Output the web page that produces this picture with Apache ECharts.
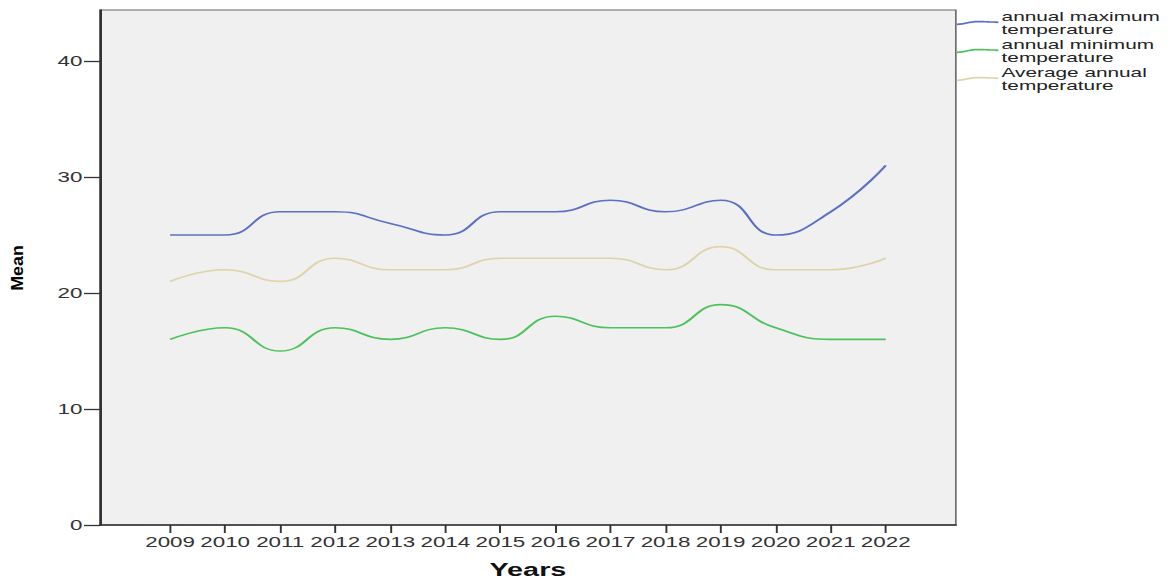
<!DOCTYPE html>
<html><head><meta charset="utf-8">
<script src="https://cdn.jsdelivr.net/npm/echarts@6/dist/echarts.min.js"></script>
<style>
html,body{margin:0;padding:0;background:#fff;overflow:hidden}
#wrap{width:1172px;height:579px;overflow:hidden}
#c{width:732.5px;height:579px;transform:scaleX(1.6);transform-origin:0 0}
</style>
</head><body><div id="wrap"><div id="c"></div></div>
<script>
const years = [2009,2010,2011,2012,2013,2014,2015,2016,2017,2018,2019,2020,2021,2022];
const maxTemp = [25,25,27,27,26,25,27,27,28,27,28,25,27,31];
const minTemp = [16,17,15,17,16,17,16,18,17,17,19,17,16,16];
const avgTemp = [21,22,21,23,22,22,23,23,23,22,24,22,22,23];
const yTicks = [0,10,20,30,40];
const seriesNames = ['annual maximum\ntemperature','annual minimum\ntemperature','Average annual\ntemperature'];
const colors = ['#5b6fc5','#4cc35a','#dbd5a8'];

const pair = arr => years.map((y,i)=>[y,arr[i]]);
const chart = echarts.init(document.getElementById('c'), null, {renderer:'svg'});
const lbl = {fontFamily:'Liberation Sans, Arial', fontSize:14, color:'#333'};
const wave = 'path://M0,6 C8,6 12,2 20,2 C28,2 32,3 40,3 L40,5.6 C32,5.6 28,4.6 20,4.6 C12,4.6 8,8.6 0,8.6 Z';
chart.setOption({
  animation:false,
  backgroundColor:'#fff',
  grid:{left:62.5,right:135.6,top:10,bottom:54,outerBoundsMode:'none',containLabel:false,show:true,backgroundColor:'#f0f0f0',borderColor:'#666',borderWidth:1},
  legend:{
    left:598, top:10, padding:0, orient:'vertical', itemGap:2, itemWidth:26, itemHeight:5,
    icon:wave,
    textStyle:{fontFamily:'Liberation Sans, Arial', fontSize:13, color:'#222', lineHeight:13, padding:[0,0,0,-3]},
    data:seriesNames
  },
  graphic:[{
    type:'text', x:10.8, y:268, rotation:Math.PI/2, scaleX:1.05, scaleY:0.64,
    style:{text:'Mean', font:'bold 17px "Liberation Sans", Arial', fill:'#000', align:'center', verticalAlign:'middle'}
  }],
  xAxis:{
    type:'value', min:2007.727, max:2023.273,
    name:'Years', nameLocation:'middle', nameGap:36,
    nameTextStyle:{fontFamily:'Liberation Sans, Arial', fontSize:18, lineHeight:18, fontWeight:'bold', color:'#111'},
    axisLine:{show:true,lineStyle:{color:'#333',width:1.6}},
    axisTick:{show:true,length:8,lineStyle:{color:'#333',width:1.2},customValues:years},
    axisLabel:Object.assign({margin:10,customValues:years,formatter:v=>String(Math.round(v))},lbl),
    splitLine:{show:false}
  },
  yAxis:{
    type:'value', min:0, max:44.4,
    axisLine:{show:true,lineStyle:{color:'#333',width:1.5}},
    axisTick:{show:true,length:10,inside:false,lineStyle:{color:'#333',width:1.3},customValues:yTicks},
    axisLabel:Object.assign({margin:11,customValues:yTicks,formatter:v=>String(Math.round(v))},lbl),
    splitLine:{show:false}
  },
  series:[
    {name:seriesNames[0],type:'line',smooth:0.5,showSymbol:false,data:pair(maxTemp),lineStyle:{color:colors[0],width:1.6},itemStyle:{color:colors[0]}},
    {name:seriesNames[1],type:'line',smooth:0.5,showSymbol:false,data:pair(minTemp),lineStyle:{color:colors[1],width:1.6},itemStyle:{color:colors[1]}},
    {name:seriesNames[2],type:'line',smooth:0.5,showSymbol:false,data:pair(avgTemp),lineStyle:{color:colors[2],width:1.6},itemStyle:{color:colors[2]}}
  ]
});
</script></body></html>
